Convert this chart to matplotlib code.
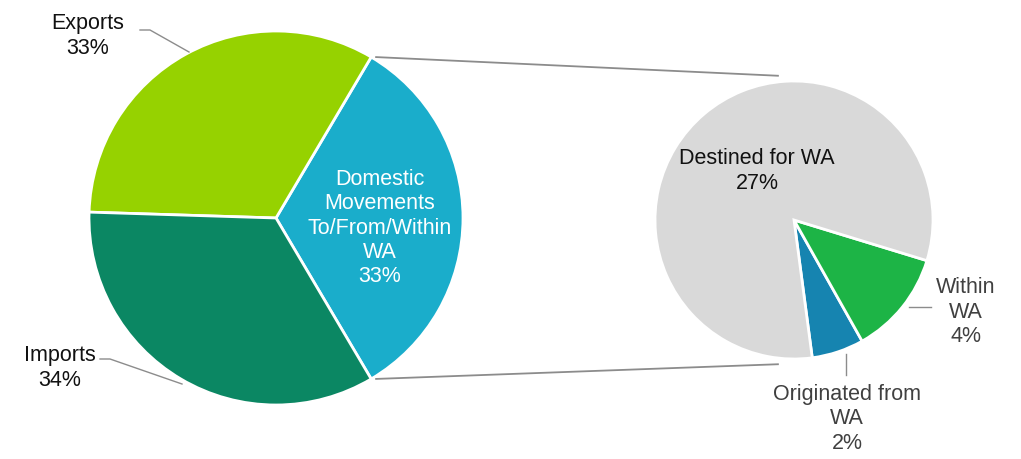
import numpy as np
import matplotlib
matplotlib.use("Agg")
import matplotlib.pyplot as plt

plt.rcParams['font.family'] = ['Liberation Sans', 'DejaVu Sans']

# Main pie: overall movement categories (%)
main_labels = ["Domestic\nMovements\nTo/From/Within\nWA", "Exports", "Imports"]
main_values = [33, 33, 34]
main_colors = ["#1AADCB", "#96D200", "#0B8763"]

# Secondary pie: breakdown of domestic movements (%)
sub_labels = ["Originated from\nWA", "Within\nWA", "Destined for WA"]
sub_values = [2, 4, 27]
sub_colors = ["#1684B0", "#1DB446", "#D9D9D9"]

W, H = 1021, 459
fig = plt.figure(figsize=(W / 100, H / 100), dpi=100)
ax = fig.add_axes([0, 0, 1, 1])

# geometry in pixel-like data units (y up)
c1, r1 = (276, 241), 187
c2, r2 = (794, 239), 139

main_span = 360 * main_values[0] / sum(main_values)
start1 = -main_span / 2
ax.pie(main_values, colors=main_colors, startangle=start1, counterclock=True,
       center=c1, radius=r1, frame=True,
       wedgeprops=dict(edgecolor='white', linewidth=2))

sub_total = sum(sub_values)
start2 = -17 - 360 * (sub_values[0] + sub_values[1]) / sub_total
ax.pie(sub_values, colors=sub_colors, startangle=start2, counterclock=True,
       center=c2, radius=r2, frame=True,
       wedgeprops=dict(edgecolor='white', linewidth=2))
ax.set_xlim(0, W)
ax.set_ylim(0, H)
ax.set_aspect('equal')
ax.axis('off')

# connector lines between the two pies
a_top, a_bot = np.deg2rad(main_span / 2), np.deg2rad(-main_span / 2)
p1 = (c1[0] + r1 * np.cos(a_top), c1[1] + r1 * np.sin(a_top))
p2 = (c1[0] + r1 * np.cos(a_bot), c1[1] + r1 * np.sin(a_bot))
q1 = (c2[0] + (r2 + 6) * np.cos(np.deg2rad(96)), c2[1] + (r2 + 6) * np.sin(np.deg2rad(96)))
q2 = (c2[0] + (r2 + 6) * np.cos(np.deg2rad(264)), c2[1] + (r2 + 6) * np.sin(np.deg2rad(264)))
line_kw = dict(color='#8C8C8C', lw=1.3, solid_capstyle='butt')
ax.plot([p1[0] + 4, q1[0]], [p1[1], q1[1]], **line_kw)
ax.plot([p2[0] + 4, q2[0]], [p2[1], q2[1]], **line_kw)

fs = 15.5
ls = 1.2
dark = '#111111'
grey_txt = '#404040'
lead = dict(color='#8C8C8C', lw=1)

# main pie labels
ax.text(380, H - 228, f"{main_labels[0]}\n{main_values[0]}%", color='white',
        fontsize=fs, ha='center', va='center', linespacing=ls)
ax.text(88, H - 36, f"{main_labels[1]}\n{main_values[1]}%", color=dark,
        fontsize=fs, ha='center', va='center', linespacing=ls)
ax.plot([140, 150, 189], [H - 30, H - 30, H - 52], **lead)
ax.text(60, H - 368, f"{main_labels[2]}\n{main_values[2]}%", color=dark,
        fontsize=fs, ha='center', va='center', linespacing=ls)
ax.plot([100, 110, 182], [H - 359, H - 359, H - 384], **lead)

# secondary pie labels
ax.text(757, H - 171, f"{sub_labels[2]}\n{sub_values[2]}%", color=dark,
        fontsize=fs, ha='center', va='center', linespacing=ls)
ax.text(966, H - 312, f"{sub_labels[1]}\n{sub_values[1]}%", color=grey_txt,
        fontsize=fs, ha='center', va='center', linespacing=ls)
ax.plot([909, 931], [H - 307, H - 307], **lead)
ax.text(847, H - 419, f"{sub_labels[0]}\n{sub_values[0]}%", color=grey_txt,
        fontsize=fs, ha='center', va='center', linespacing=ls)
ax.plot([846, 846], [H - 354, H - 375], **lead)

fig.savefig("out.png", dpi=100, facecolor='white')
